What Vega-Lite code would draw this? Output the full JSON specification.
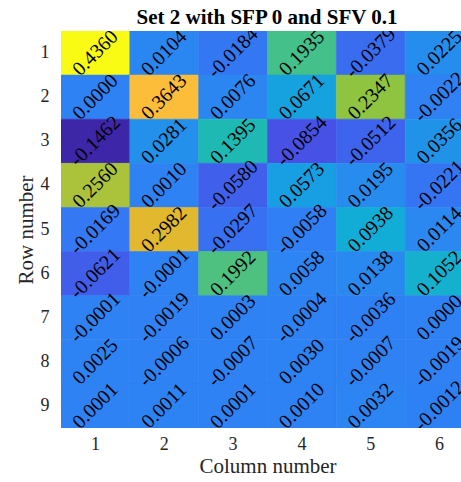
{
  "$schema": "https://vega.github.io/schema/vega-lite/v6.json",
  "autosize": {"type": "none"},
  "padding": {"left": 61, "top": 31, "right": 0, "bottom": 54},
  "width": 400,
  "height": 397,
  "background": "white",
  "title": {"text": "Set 2 with SFP 0 and SFV 0.1", "font": "Liberation Serif", "fontSize": 21, "fontWeight": "bold", "color": "#000000", "anchor": "middle", "offset": 3, "dx": 6},
  "data": {"values": [
    {"row": 1, "col": 1, "value": 0.4360}, {"row": 1, "col": 2, "value": 0.0104}, {"row": 1, "col": 3, "value": -0.0184}, {"row": 1, "col": 4, "value": 0.1935}, {"row": 1, "col": 5, "value": -0.0379}, {"row": 1, "col": 6, "value": 0.0225},
    {"row": 2, "col": 1, "value": 0.0000}, {"row": 2, "col": 2, "value": 0.3643}, {"row": 2, "col": 3, "value": 0.0076}, {"row": 2, "col": 4, "value": 0.0671}, {"row": 2, "col": 5, "value": 0.2347}, {"row": 2, "col": 6, "value": -0.0022},
    {"row": 3, "col": 1, "value": -0.1462}, {"row": 3, "col": 2, "value": 0.0281}, {"row": 3, "col": 3, "value": 0.1395}, {"row": 3, "col": 4, "value": -0.0854}, {"row": 3, "col": 5, "value": -0.0512}, {"row": 3, "col": 6, "value": 0.0356},
    {"row": 4, "col": 1, "value": 0.2560}, {"row": 4, "col": 2, "value": 0.0010}, {"row": 4, "col": 3, "value": -0.0580}, {"row": 4, "col": 4, "value": 0.0573}, {"row": 4, "col": 5, "value": 0.0195}, {"row": 4, "col": 6, "value": -0.0221},
    {"row": 5, "col": 1, "value": -0.0169}, {"row": 5, "col": 2, "value": 0.2982}, {"row": 5, "col": 3, "value": -0.0297}, {"row": 5, "col": 4, "value": -0.0058}, {"row": 5, "col": 5, "value": 0.0938}, {"row": 5, "col": 6, "value": 0.0114},
    {"row": 6, "col": 1, "value": -0.0621}, {"row": 6, "col": 2, "value": -0.0001}, {"row": 6, "col": 3, "value": 0.1992}, {"row": 6, "col": 4, "value": 0.0058}, {"row": 6, "col": 5, "value": 0.0138}, {"row": 6, "col": 6, "value": 0.1052},
    {"row": 7, "col": 1, "value": -0.0001}, {"row": 7, "col": 2, "value": -0.0019}, {"row": 7, "col": 3, "value": 0.0003}, {"row": 7, "col": 4, "value": -0.0004}, {"row": 7, "col": 5, "value": -0.0036}, {"row": 7, "col": 6, "value": 0.0000},
    {"row": 8, "col": 1, "value": 0.0025}, {"row": 8, "col": 2, "value": -0.0006}, {"row": 8, "col": 3, "value": -0.0007}, {"row": 8, "col": 4, "value": 0.0030}, {"row": 8, "col": 5, "value": -0.0007}, {"row": 8, "col": 6, "value": -0.0019},
    {"row": 9, "col": 1, "value": 0.0001}, {"row": 9, "col": 2, "value": 0.0011}, {"row": 9, "col": 3, "value": 0.0001}, {"row": 9, "col": 4, "value": 0.0010}, {"row": 9, "col": 5, "value": 0.0032}, {"row": 9, "col": 6, "value": -0.0012}
  ]},
  "encoding": {
    "x": {"field": "col", "type": "ordinal", "title": "Column number",
      "scale": {"range": [0, 413], "paddingInner": 0, "paddingOuter": 0},
      "axis": {"labelAngle": 0, "labelFont": "Liberation Serif", "labelFontSize": 18, "labelColor": "#262626", "titleFont": "Liberation Serif", "titleFontSize": 21, "titleFontWeight": "normal", "titleColor": "#262626", "domain": false, "ticks": false, "labelPadding": 7, "titlePadding": 2}},
    "y": {"field": "row", "type": "ordinal", "title": "Row number",
      "scale": {"paddingInner": 0, "paddingOuter": 0},
      "axis": {"labelFont": "Liberation Serif", "labelFontSize": 18, "labelColor": "#262626", "titleFont": "Liberation Serif", "titleFontSize": 21, "titleFontWeight": "normal", "titleColor": "#262626", "domain": false, "ticks": false, "labelPadding": 12, "titlePadding": 4}}
  },
  "layer": [
    {"mark": {"type": "rect", "clip": true, "strokeWidth": 0.6},
     "encoding": {
       "color": {"field": "value", "type": "quantitative", "legend": null,
         "scale": {"domain": [-0.1462, -0.0854, -0.03, 0, 0.0573, 0.0938, 0.1395, 0.1935, 0.2347, 0.2560, 0.2982, 0.3643, 0.4360],
                   "range": ["#3e26a8", "#4751e6", "#3870f2", "#2e82f4", "#189ee2", "#12add6", "#1db9b2", "#44c08a", "#8ec440", "#abc33a", "#e2b92e", "#fcbd3b", "#f9fb14"],
                   "interpolate": "rgb"}},
       "stroke": {"field": "value", "type": "quantitative", "legend": null,
         "scale": {"domain": [-0.1462, -0.0854, -0.03, 0, 0.0573, 0.0938, 0.1395, 0.1935, 0.2347, 0.2560, 0.2982, 0.3643, 0.4360],
                   "range": ["#3e26a8", "#4751e6", "#3870f2", "#2e82f4", "#189ee2", "#12add6", "#1db9b2", "#44c08a", "#8ec440", "#abc33a", "#e2b92e", "#fcbd3b", "#f9fb14"],
                   "interpolate": "rgb"}}}},
    {"mark": {"type": "text", "clip": true, "angle": -45, "font": "Liberation Serif", "fontSize": 20, "color": "#000000", "align": "center", "baseline": "middle"},
     "encoding": {"text": {"field": "value", "type": "quantitative", "format": ".4f"}}}
  ],
  "config": {
    "view": {"stroke": null},
    "locale": {"number": {"decimal": ".", "thousands": ",", "grouping": [3], "currency": ["$", ""], "minus": "-"}}
  }
}
